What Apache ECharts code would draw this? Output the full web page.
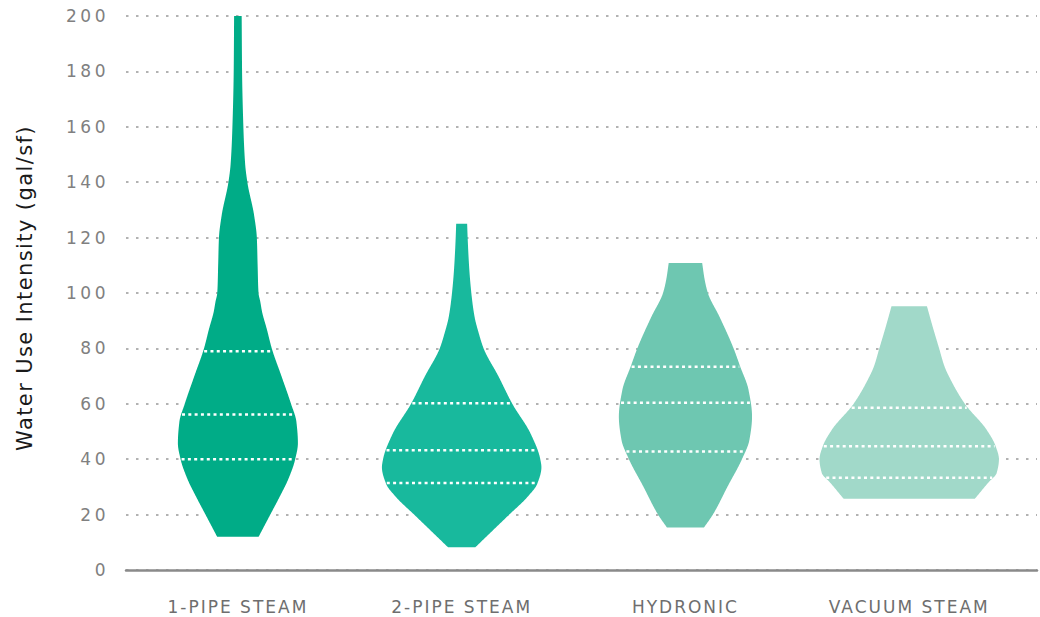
<!DOCTYPE html>
<html><head><meta charset="utf-8">
<script src="https://cdn.jsdelivr.net/npm/echarts@6/dist/echarts.min.js"></script>
<style>
html,body{margin:0;padding:0;background:#fff;}
#chart{width:1040px;height:617px;}
#chart text{letter-spacing:2px;}
#chart text[style*="Verdana"]{letter-spacing:3.5px;}
#chart text[style*="Bitstream"]{letter-spacing:1.4px;}
</style></head><body><div id="chart"></div>
<script>
// ---- data ----
const categories = ['1-PIPE STEAM', '2-PIPE STEAM', 'HYDRONIC', 'VACUUM STEAM'];

// violin outlines: value (gal/sf) and relative density (half width)
const pipe1Values = [12, 20, 26.5, 33, 40, 45.8, 53.5, 60, 70, 80, 87, 93.3, 96.8, 100, 110, 120, 128, 140, 146.5, 160, 180, 200];
const pipe1Density = [20.8, 32.5, 42, 50.8, 57.5, 60.2, 58.7, 53.3, 43.7, 34, 29, 24.2, 22.5, 20.7, 19.8, 19, 16.3, 9.5, 7.3, 5.5, 4.2, 3.8];
const pipe1Quartiles = [40, 56.1, 79];

const pipe2Values = [8.2, 14, 20, 26.3, 31.1, 37.1, 40.1, 49.2, 60, 70, 80, 85.3, 91.3, 100, 109.4, 120, 125];
const pipe2Density = [13.7, 30.4, 47.7, 65.8, 75.8, 80, 78.8, 69.2, 50.8, 36.8, 22, 17.3, 13, 9.7, 7.5, 6, 5.5];
const pipe2Quartiles = [31.4, 43.2, 60.2];

const hydronicValues = [15.3, 20, 30.3, 40, 47, 55.4, 65, 73.4, 80, 91.4, 100, 105, 110.8];
const hydronicDensity = [18.5, 27.5, 42.5, 56.7, 64.2, 66.8, 63.3, 55, 48.3, 34.2, 22.5, 19.2, 16.8];
const hydronicQuartiles = [42.8, 60.4, 73.4];

const vacuumValues = [25.7, 31.5, 35, 40, 44.7, 50.7, 60, 68.6, 73.4, 80, 87.5, 95.2];
const vacuumDensity = [65.8, 79.2, 87.7, 90, 86.7, 77.5, 55.8, 41.7, 35.5, 30, 23.8, 17.8];
const vacuumQuartiles = [33.3, 44.7, 58.6];

const violinColors = ['#00AC87', '#18B99D', '#6EC7B1', '#A1D9C9'];

// ---- build ----
const profiles = [
  {values: pipe1Values, density: pipe1Density, quartiles: pipe1Quartiles},
  {values: pipe2Values, density: pipe2Density, quartiles: pipe2Quartiles},
  {values: hydronicValues, density: hydronicDensity, quartiles: hydronicQuartiles},
  {values: vacuumValues, density: vacuumDensity, quartiles: vacuumQuartiles}
];
const DENSITY_SCALE = 1 / 224.5; // density -> fraction of a category slot

// monotone cubic (Fritsch-Carlson) curve through the outline points, for drawing
function pchip(xs, ys) {
  const n = xs.length, h = [], d = [], m = new Array(n);
  for (let i = 0; i < n - 1; i++) { h[i] = xs[i + 1] - xs[i]; d[i] = (ys[i + 1] - ys[i]) / h[i]; }
  m[0] = d[0]; m[n - 1] = d[n - 2];
  for (let i = 1; i < n - 1; i++) {
    if (d[i - 1] * d[i] <= 0) m[i] = 0;
    else {
      const w1 = 2 * h[i] + h[i - 1], w2 = h[i] + 2 * h[i - 1];
      m[i] = (w1 + w2) / (w1 / d[i - 1] + w2 / d[i]);
    }
  }
  return function (x) {
    let i = 0;
    while (i < n - 2 && x > xs[i + 1]) i++;
    const t = Math.min(Math.max((x - xs[i]) / h[i], 0), 1), t2 = t * t, t3 = t2 * t;
    return (2 * t3 - 3 * t2 + 1) * ys[i] + (t3 - 2 * t2 + t) * h[i] * m[i] +
      (-2 * t3 + 3 * t2) * ys[i + 1] + (t3 - t2) * h[i] * m[i + 1];
  };
}

function renderViolin(params, api) {
  const idx = api.value(0);
  const prof = profiles[idx];
  const cx = idx + 0.5;
  const center = api.coord([cx, 0])[0];
  const f = pchip(prof.values, prof.density);
  const vMin = prof.values[0], vMax = prof.values[prof.values.length - 1];
  const steps = Math.ceil((vMax - vMin) / 0.25);
  const rs = [];
  for (let s = 0; s <= steps; s++) {
    const v = vMin + (vMax - vMin) * s / steps;
    rs.push(api.coord([cx + f(v) * DENSITY_SCALE, v]));
  }
  const ls = rs.slice().reverse().map(p => [2 * center - p[0], p[1]]);
  const children = [{
    type: 'polygon',
    shape: {points: rs.concat(ls)},
    style: {fill: api.visual('color')}
  }];
  prof.quartiles.forEach(q => {
    const p = api.coord([cx + f(q) * DENSITY_SCALE, q]);
    const half = p[0] - center - 1;
    children.push({
      type: 'line',
      shape: {x1: center - half, y1: p[1], x2: center + half, y2: p[1]},
      style: {stroke: '#ffffff', lineWidth: 2.5, lineDash: [3, 3.3]}
    });
  });
  return {type: 'group', children};
}

const chart = echarts.init(document.getElementById('chart'), null, {renderer: 'svg'});
chart.setOption({
  animation: false,
  backgroundColor: '#ffffff',
  grid: {left: 126, right: 0, top: 16, bottom: 47, containLabel: false},
  xAxis: {
    type: 'value',
    min: 0,
    max: 4.071,
    interval: 0.5,
    splitLine: {show: false},
    axisTick: {show: false},
    axisLine: {show: true, lineStyle: {color: '#8a8a8a', width: 2.5}},
    axisLabel: {
      margin: 28,
      color: '#6e6e6e',
      fontSize: 17,
      fontFamily: 'DejaVu Sans',
      showMinLabel: true,
      showMaxLabel: true,
      formatter: v => {
        const i = v - 0.5;
        return (Number.isInteger(i) && categories[i]) ? categories[i] : '';
      }
    }
  },
  yAxis: {
    type: 'value',
    min: 0,
    max: 200,
    interval: 20,
    name: 'Water Use Intensity (gal/sf)',
    nameLocation: 'middle',
    nameGap: 91,
    nameTextStyle: {fontSize: 21, color: '#1a1a1a', fontFamily: 'DejaVu Sans, Bitstream Vera Sans', padding: [0, 0, 0, 10]},
    axisLine: {show: false},
    axisTick: {show: false},
    axisLabel: {margin: 17, color: '#808080', fontSize: 17, fontFamily: 'DejaVu Sans, Verdana'},
    splitLine: {show: true, lineStyle: {color: '#999999', width: 1.5, type: [2.5, 7.5]}}
  },
  series: [{
    type: 'custom',
    renderItem: renderViolin,
    encode: {x: 0},
    data: categories.map((c, i) => ({value: [i], name: c, itemStyle: {color: violinColors[i]}}))
  }]
});
</script>
</body></html>
